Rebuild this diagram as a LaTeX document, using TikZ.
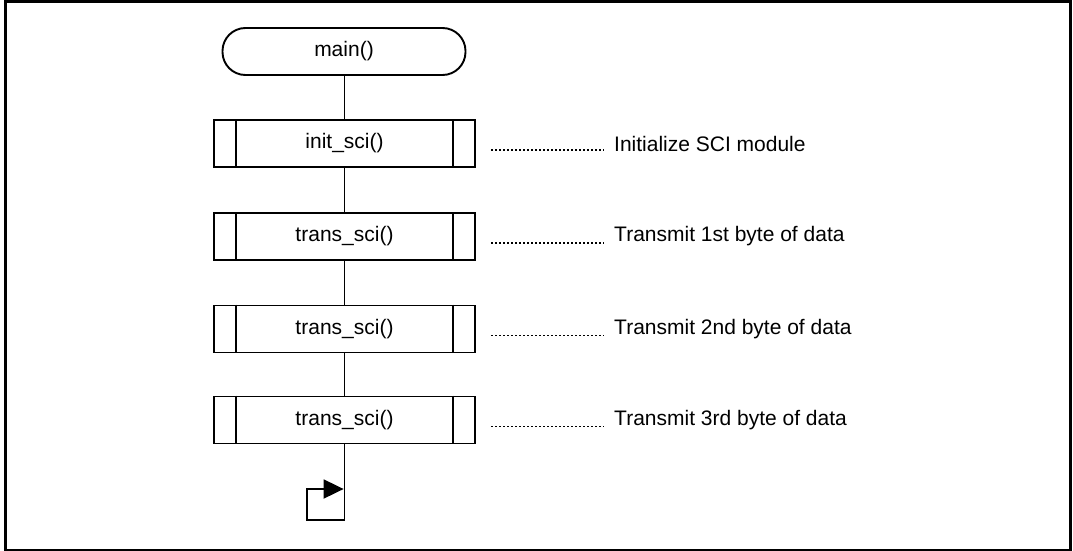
\documentclass[tikz,border=0pt]{standalone}
\usepackage{fontspec}
\setmainfont{Liberation Sans}
\usetikzlibrary{arrows.meta}
\begin{document}
\begin{tikzpicture}[x=1pt,y=-1pt,
  every node/.style={font=\fontsize{21}{25}\selectfont},
  term/.style={draw,line width=1.9pt,rounded corners=23pt,minimum width=243pt,minimum height=47pt,inner sep=0pt},
  subbox/.style={draw,line width=1.9pt,minimum width=261pt,minimum height=47pt,inner sep=0pt},
  conn/.style={line width=1.9pt},
  dots/.style={line width=1.6pt,dash pattern=on 1.5pt off 2.5pt},
  note/.style={anchor=west,inner sep=0pt}]
\useasboundingbox (0,0) rectangle (1073,551);
\draw[line width=3pt] (5,2) rectangle (1070,550);
\node[term] (main) at (344,51.5) {main()};
\node[subbox] (init) at (344.5,143.5) {init\_sci()};
\node[subbox] (t1) at (344.5,236.5) {trans\_sci()};
\node[subbox] (t2) at (344.5,329) {trans\_sci()};
\node[subbox] (t3) at (344.5,420) {trans\_sci()};
\foreach \b in {init,t1,t2,t3}{
  \draw[conn] ([xshift=23pt]\b.north west) -- ([xshift=23pt]\b.south west);
  \draw[conn] ([xshift=-23pt]\b.north east) -- ([xshift=-23pt]\b.south east);
}
\draw[conn] (main.south -| init.north) -- (init.north);
\draw[conn] (init) -- (t1);
\draw[conn] (t1) -- (t2);
\draw[conn] (t2) -- (t3);
\coordinate (lb) at (344.5,520);
\coordinate (ll) at (307,520);
\coordinate (lu) at (307,489);
\coordinate (la) at (344.5,489);
\draw[conn,-{Triangle[length=20pt,width=19pt]}] (t3.south) -- (lb) -- (ll) -- (lu) -- ([xshift=-0.9pt]la);
\foreach \b/\t in {init/Initialize SCI module,t1/Transmit 1st byte of data,t2/Transmit 2nd byte of data,t3/Transmit 3rd byte of data}{
  \coordinate (\b d1) at (491,0 |- \b.center);
  \coordinate (\b d2) at (604,0 |- \b.center);
  \draw[dots] ([yshift=-6.5pt]\b d1) -- ([yshift=-6.5pt]\b d2);
  \node[note] (\b n) at (614,0 |- \b.center) {\t};
}
\end{tikzpicture}
\end{document}
